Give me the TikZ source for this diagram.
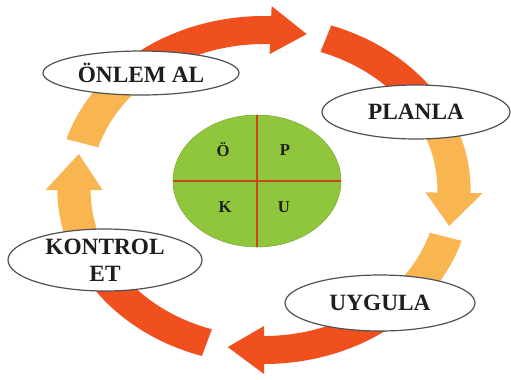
\documentclass[tikz,border=0pt]{standalone}
\usepackage{fontspec}
\setmainfont{Liberation Serif}
\usetikzlibrary{shapes.geometric}
\definecolor{arrred}{HTML}{F0501E}
\definecolor{arryel}{HTML}{F8B550}
\definecolor{pdgreen}{HTML}{8FC63C}
\definecolor{crossred}{HTML}{C8461E}
\definecolor{rimgray}{HTML}{505050}
\definecolor{textdark}{HTML}{1E1E1E}
% ring body piece between two angles (centre 264,190; radii 190 x 160; half width 14)
\newcommand\ringbody[3]{\fill[#3] plot[domain=#1:#2,samples=40,variable=\t] ({264+206.6*cos(\t)},{190-174*sin(\t)}) -- plot[domain=#2:#1,samples=40,variable=\t] ({264+173.4*cos(\t)},{190-146*sin(\t)}) -- cycle;}
% arrow head: base at angle #1, tip at angle #2
\newcommand\ringhead[3]{\fill[#3] ({264+218.5*cos(#1)},{190-184*sin(#1)}) -- ({264+190*cos(#2)},{190-160*sin(#2)}) -- ({264+161.5*cos(#1)},{190-136*sin(#1)}) -- cycle;}
\tikzset{
  bubble/.style={ellipse, draw=rimgray, line width=0.9pt, fill=white, inner sep=0pt,
    align=center, text=textdark, font=\bfseries\fontsize{17.5}{20}\selectfont},
  quad/.style={text=textdark, font=\bfseries\fontsize{12.5}{14}\selectfont},
  cross/.style={draw=crossred, line width=1.4pt}
}
\begin{document}
\begin{tikzpicture}[x=0.75pt,y=-0.75pt]
\useasboundingbox (0,0) rectangle (511,379);
\fill[white] (0,0) rectangle (511,379);
% top arrow
\ringbody{163}{128}{arryel}
\ringbody{131}{87}{arrred}
\ringhead{88}{77}{arrred}
% right arrow
\ringbody{71}{29}{arrred}
\ringbody{31}{-2}{arryel}
\ringhead{-1}{-13}{arryel}
% bottom arrow
\ringbody{-17}{-51}{arryel}
\ringbody{-49}{-91}{arrred}
\ringhead{-90}{-101}{arrred}
% left arrow
\ringbody{-107.5}{-159}{arrred}
\ringbody{-161}{-181}{arryel}
\ringhead{-180}{-193}{arryel}
% labels
\node[bubble, minimum width=147pt, minimum height=33pt] (onlem) at (141,73) {ÖNLEM AL};
\node[bubble, minimum width=141pt, minimum height=40.5pt] (planla) at (416,112) {PLANLA};
\node[bubble, minimum width=142.5pt, minimum height=42pt] (uygula) at (380,303) {UYGULA};
\node[bubble, minimum width=145.5pt, minimum height=46.5pt, font=\bfseries\fontsize{17.5}{20}\selectfont] (kontrol) at (105,260) {KONTROL\\ET};
% centre
\node[ellipse, fill=pdgreen, draw=pdgreen!85!black, line width=0.4pt, minimum width=126pt, minimum height=99pt, inner sep=0pt] (pdca) at (257,181) {};
\draw[cross] (pdca.west) -- (pdca.east);
\draw[cross] (pdca.north) -- (pdca.south);
\node[quad] (qo) at (223,150) {Ö};
\node[quad] (qp) at (285,150) {P};
\node[quad] (qk) at (225,207) {K};
\node[quad] (qu) at (284,207) {U};
\end{tikzpicture}
\end{document}
